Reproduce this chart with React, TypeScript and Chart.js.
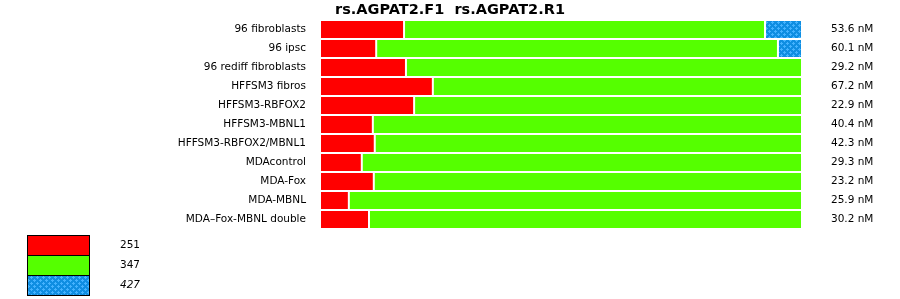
import React, { useEffect, useRef } from 'react';
import { Chart, registerables } from 'chart.js';

Chart.register(...registerables);

const titleText = 'rs.AGPAT2.F1  rs.AGPAT2.R1';

const categories = [
  '96 fibroblasts',
  '96 ipsc',
  '96 rediff fibroblasts',
  'HFFSM3 fibros',
  'HFFSM3-RBFOX2',
  'HFFSM3-MBNL1',
  'HFFSM3-RBFOX2/MBNL1',
  'MDAcontrol',
  'MDA-Fox',
  'MDA-MBNL',
  'MDA\u2013Fox-MBNL double',
];

const concentrationLabels = [
  '53.6 nM',
  '60.1 nM',
  '29.2 nM',
  '67.2 nM',
  '22.9 nM',
  '40.4 nM',
  '42.3 nM',
  '29.3 nM',
  '23.2 nM',
  '25.9 nM',
  '30.2 nM',
];

// percentage of each bar
const series251 = [17.3, 11.5, 17.7, 23.3, 19.4, 10.8, 11.2, 8.5, 11.0, 5.8, 10.0];
const series347 = [75.2, 83.7, 82.3, 76.7, 80.6, 89.2, 88.8, 91.5, 89.0, 94.2, 90.0];
const series427 = [7.5, 4.8, 0, 0, 0, 0, 0, 0, 0, 0, 0];

const legendLabels = ['251', '347', '427'];

const FONT = '"DejaVu Sans", Verdana, sans-serif';

function makePattern(): CanvasPattern | string {
  const c = document.createElement('canvas');
  c.width = 6;
  c.height = 6;
  const g = c.getContext('2d');
  if (!g) return '#1390e6';
  g.fillStyle = '#0f8ee2';
  g.fillRect(0, 0, 6, 6);
  g.fillStyle = '#45b3ff';
  const plus = (cx: number, cy: number) => {
    g.fillRect(cx, cy - 1, 1, 3);
    g.fillRect(cx - 1, cy, 3, 1);
  };
  plus(1, 1);
  plus(4, 4);
  const p = g.createPattern(c, 'repeat');
  return p || '#1390e6';
}

export default function App() {
  const ref = useRef<HTMLCanvasElement | null>(null);

  useEffect(() => {
    const canvas = ref.current;
    if (!canvas) return;
    const pattern = makePattern();
    const legendColors: (string | CanvasPattern)[] = ['#ff0000', '#55ff00', pattern];

    const legendPlugin = {
      id: 'customLegend',
      afterDraw(chart: any) {
        const ctx = chart.ctx as CanvasRenderingContext2D;
        ctx.save();
        const x = 27;
        const y0 = 235;
        const w = 62;
        const h = 20;
        legendLabels.forEach((lab, i) => {
          const y = y0 + i * h;
          ctx.fillStyle = legendColors[i] as any;
          ctx.fillRect(x, y, w, h);
          ctx.strokeStyle = '#000';
          ctx.lineWidth = 1;
          ctx.strokeRect(x + 0.5, y + 0.5, w, h);
          ctx.fillStyle = '#000';
          ctx.font = (i === 2 ? 'italic ' : '') + '10.5px ' + FONT;
          ctx.textBaseline = 'middle';
          ctx.textAlign = 'left';
          ctx.fillText(lab, 120, y + 10.5);
        });
        ctx.restore();
      },
    };

    const zeroPad = (scale: any, w: number) => {
      scale.width = w;
      scale.paddingTop = 0;
      scale.paddingBottom = 0;
    };

    const chart = new Chart(canvas, {
      type: 'bar',
      data: {
        labels: categories,
        datasets: [
          {
            label: legendLabels[0],
            data: series251,
            backgroundColor: '#ff0000',
            borderColor: '#ffffff',
            borderWidth: { top: 0, right: 1, bottom: 0, left: 0 },
            borderSkipped: false,
            inflateAmount: 0,
            barThickness: 17,
          },
          {
            label: legendLabels[1],
            data: series347,
            backgroundColor: '#55ff00',
            borderColor: '#ffffff',
            borderWidth: (c: any) => ({
              top: 0,
              bottom: 0,
              left: 1,
              right: series427[c.dataIndex] > 0 ? 1 : 0,
            }),
            borderSkipped: false,
            inflateAmount: 0,
            barThickness: 17,
          },
          {
            label: legendLabels[2],
            data: series427,
            backgroundColor: pattern as any,
            borderColor: '#ffffff',
            borderWidth: { top: 0, right: 0, bottom: 0, left: 1 },
            borderSkipped: false,
            inflateAmount: 0,
            barThickness: 17,
          },
        ],
      } as any,
      options: {
        indexAxis: 'y',
        responsive: false,
        animation: false,
        devicePixelRatio: 1,
        layout: { padding: { top: 0, left: 0, right: 0, bottom: 70 } },
        plugins: {
          legend: { display: false },
          tooltip: { enabled: false },
          title: {
            display: true,
            text: titleText,
            color: '#000',
            font: { family: FONT, size: 14.5, weight: 'bold', lineHeight: 1.2 },
            padding: { top: 1.8, bottom: 0.8 },
          },
        },
        scales: {
          x: {
            type: 'linear',
            display: false,
            stacked: true,
            min: 0,
            max: 100,
          },
          y: {
            type: 'category',
            stacked: true,
            position: 'left',
            offset: true,
            grid: { display: false, drawTicks: false },
            border: { display: false },
            ticks: {
              color: '#000',
              font: { family: FONT, size: 10.5 },
              padding: 15,
              autoSkip: false,
            },
            afterFit: (scale: any) => zeroPad(scale, 321),
          },
          y2: {
            type: 'category',
            labels: concentrationLabels,
            position: 'right',
            offset: true,
            grid: { display: false, drawTicks: false },
            border: { display: false },
            ticks: {
              color: '#000',
              font: { family: FONT, size: 10.5 },
              padding: 30,
              autoSkip: false,
            },
            afterFit: (scale: any) => zeroPad(scale, 99),
          },
        },
      } as any,
      plugins: [legendPlugin],
    });

    return () => {
      chart.destroy();
    };
  }, []);

  return (
    <div style={{ position: 'absolute', left: 0, top: 0, width: 900, height: 299, background: '#fff' }}>
      <canvas ref={ref} width={900} height={299} style={{ display: 'block', width: 900, height: 299 }} />
    </div>
  );
}
